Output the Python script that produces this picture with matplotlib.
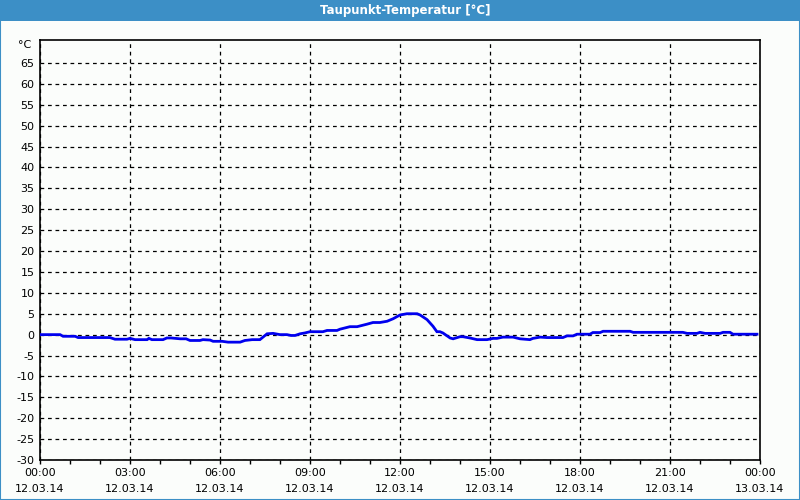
import matplotlib
matplotlib.use("Agg")
import matplotlib.pyplot as plt
from matplotlib.patches import Rectangle
import numpy as np

title = "Taupunkt-Temperatur [°C]"
unit_label = "°C"

hours = [0.0, 0.67, 0.77, 1.17, 1.27, 2.33, 2.5, 2.9, 3.0, 3.17, 3.57, 3.63, 3.73,
         4.1, 4.23, 4.37, 4.67, 4.87, 5.0, 5.33, 5.43, 5.67, 5.77, 6.07, 6.27, 6.67,
         6.83, 7.07, 7.33, 7.57, 7.77, 8.0, 8.23, 8.37, 8.5, 8.67, 8.83, 9.0, 9.43,
         9.57, 9.9, 10.0, 10.33, 10.57, 10.9, 11.1, 11.33, 11.57, 11.77, 12.0, 12.23,
         12.57, 12.67, 12.9, 13.1, 13.23, 13.33, 13.43, 13.67, 13.77, 14.0, 14.1,
         14.33, 14.57, 14.9, 15.1, 15.23, 15.43, 15.77, 16.0, 16.33, 16.43, 16.67,
         16.9, 17.43, 17.57, 17.77, 17.9, 18.33, 18.43, 18.67, 18.77, 19.67, 19.77,
         21.43, 21.57, 21.9, 22.0, 22.17, 22.67, 22.77, 23.0, 23.1, 23.9]
dewpoint = [0.0, 0.0, -0.4, -0.4, -0.7, -0.7, -1.1, -1.1, -0.9, -1.2, -1.2, -0.9, -1.2,
            -1.2, -0.8, -0.8, -1.0, -1.0, -1.4, -1.4, -1.2, -1.3, -1.6, -1.6, -1.8, -1.8,
            -1.4, -1.2, -1.2, 0.2, 0.3, 0.0, 0.0, -0.2, -0.2, 0.2, 0.4, 0.7, 0.7,
            1.0, 1.0, 1.3, 1.9, 1.9, 2.5, 2.9, 2.9, 3.2, 3.8, 4.7, 5.0,
            5.0, 4.7, 3.6, 2.0, 0.7, 0.7, 0.4, -0.8, -1.0, -0.5, -0.5,
            -0.8, -1.2, -1.2, -0.9, -0.9, -0.6, -0.6, -1.0, -1.2, -0.9, -0.6,
            -0.7, -0.7, -0.3, -0.3, 0.1, 0.1, 0.5, 0.5, 0.8, 0.8, 0.55,
            0.55, 0.3, 0.3, 0.55, 0.3, 0.3, 0.55, 0.55, 0.1, 0.1]

x_tick_hours = [0, 3, 6, 9, 12, 15, 18, 21, 24]
x_tick_labels = ["00:00\n12.03.14", "03:00\n12.03.14", "06:00\n12.03.14",
                 "09:00\n12.03.14", "12:00\n12.03.14", "15:00\n12.03.14",
                 "18:00\n12.03.14", "21:00\n12.03.14", "00:00\n13.03.14"]
y_ticks = list(range(-30, 70, 5))

bg = "#fbfdfb"
bar_blue = "#3c8fc6"

fig = plt.figure(figsize=(8, 5), dpi=100, facecolor=bg)

# title bar
fig.patches.append(Rectangle((0, 1 - 21 / 500), 1, 21 / 500, transform=fig.transFigure,
                             facecolor=bar_blue, edgecolor="none", zorder=0))
# outer border
fig.patches.append(Rectangle((0.0006, 0.001), 0.9988, 0.998, transform=fig.transFigure,
                             facecolor="none", edgecolor=bar_blue, linewidth=1.5, zorder=5))
fig.text(405 / 800, 1 - 10.5 / 500, title, color="white", fontsize=8.5,
         fontweight="semibold", ha="center", va="center", family="DejaVu Sans")

ax = fig.add_axes([40 / 800, 40 / 500, 720 / 800, 420 / 500])
ax.set_facecolor(bg)
ax.plot(hours, dewpoint, color="#0000ee", linewidth=2.0, solid_joinstyle="miter", zorder=3)

ax.set_xlim(0, 24)
ax.set_ylim(-30, 70.5)
ax.set_xticks(x_tick_hours)
ax.set_xticklabels(x_tick_labels, fontsize=8, linespacing=1.65)
ax.set_xticks(np.arange(0, 25, 1), minor=True)
ax.set_yticks(y_ticks)
ax.set_yticklabels([str(v) for v in y_ticks], fontsize=8)

ax.tick_params(axis="x", which="both", direction="out", length=3, width=1, pad=3)
ax.tick_params(axis="y", which="both", length=0, pad=4)

for s in ax.spines.values():
    s.set_color("black")
    s.set_linewidth(1.2)

ax.grid(True, which="major", color="black", linestyle=(0, (3, 3)), linewidth=0.9)
ax.text(-0.012, 1 - 5 / 420, unit_label, transform=ax.transAxes, ha="right",
        va="center", fontsize=8)

fig.savefig("out.png", dpi=100, facecolor=bg)
